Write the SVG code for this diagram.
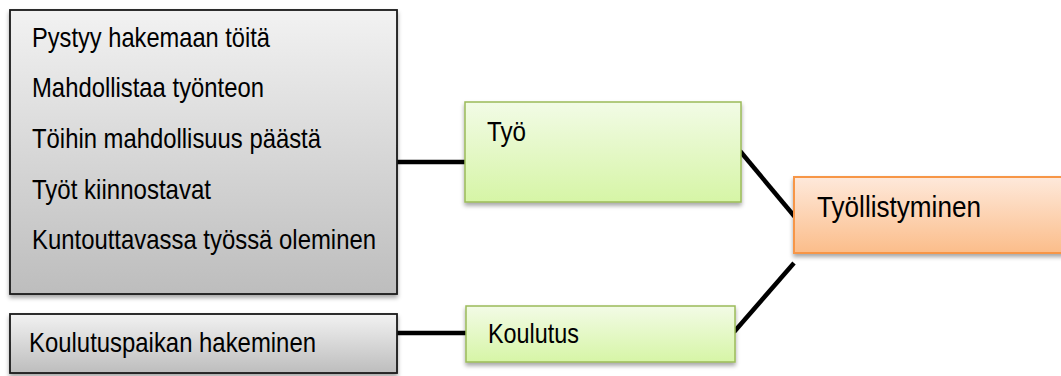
<svg xmlns="http://www.w3.org/2000/svg" width="1061" height="376" viewBox="0 0 1061 376">
  <style>
    .lbl { font-family: "Liberation Sans", Arial, sans-serif; font-size: 28px; fill: #000; }
    .big { font-size: 30px; }
    .gray { fill: url(#gGray); stroke: #1a1a1a; stroke-width: 1.8; }
    .green { fill: url(#gGreen); stroke: #9bbb59; stroke-width: 1.5; }
    .orange { fill: url(#gOrange); stroke: #f79646; stroke-width: 2; }
    .link { stroke: #000; stroke-width: 4.5; fill: none; }
  </style>
  <defs>
    <linearGradient id="gGray" x1="0" y1="0" x2="0" y2="1">
      <stop offset="0" stop-color="#f2f2f2"/>
      <stop offset="1" stop-color="#bdbdbd"/>
    </linearGradient>
    <linearGradient id="gGreen" x1="0" y1="0" x2="0" y2="1">
      <stop offset="0" stop-color="#f2fbe6"/>
      <stop offset="1" stop-color="#d6f5a6"/>
    </linearGradient>
    <linearGradient id="gOrange" x1="0" y1="0" x2="0" y2="1">
      <stop offset="0" stop-color="#fee9db"/>
      <stop offset="1" stop-color="#fbbd8a"/>
    </linearGradient>
    <filter id="shadow" x="-5%" y="-10%" width="110%" height="130%">
      <feDropShadow dx="0" dy="3" stdDeviation="2" flood-color="#000" flood-opacity="0.35"/>
    </filter>
  </defs>

  <rect width="1061" height="376" fill="#fff"/>

  <!-- connectors -->
  <g id="connectors">
    <line class="link" x1="397" y1="162" x2="467" y2="162"/>
    <line class="link" x1="397" y1="333" x2="467" y2="333"/>
    <line class="link" x1="740" y1="151" x2="795" y2="217"/>
    <line class="link" x1="794" y1="263" x2="734" y2="332"/>
  </g>

  <!-- list of work-related factors -->
  <g id="node-tyo-list">
    <rect class="gray" x="10" y="10" width="387" height="284" filter="url(#shadow)"/>
    <text class="lbl" x="32" y="47" textLength="238" lengthAdjust="spacingAndGlyphs">Pystyy hakemaan töitä</text>
    <text class="lbl" x="32" y="97" textLength="232" lengthAdjust="spacingAndGlyphs">Mahdollistaa työnteon</text>
    <text class="lbl" x="32" y="148" textLength="289" lengthAdjust="spacingAndGlyphs">Töihin mahdollisuus päästä</text>
    <text class="lbl" x="32" y="199" textLength="179" lengthAdjust="spacingAndGlyphs">Työt kiinnostavat</text>
    <text class="lbl" x="32" y="249" textLength="344" lengthAdjust="spacingAndGlyphs">Kuntouttavassa työssä oleminen</text>
  </g>

  <!-- education factor -->
  <g id="node-koulutus-list">
    <rect class="gray" x="10" y="314" width="387" height="59" filter="url(#shadow)"/>
    <text class="lbl" x="29" y="352" textLength="287" lengthAdjust="spacingAndGlyphs">Koulutuspaikan hakeminen</text>
  </g>

  <g id="node-tyo">
    <rect class="green" x="465" y="102" width="276" height="100" filter="url(#shadow)"/>
    <text class="lbl" x="487" y="141" textLength="39" lengthAdjust="spacingAndGlyphs">Työ</text>
  </g>

  <g id="node-koulutus">
    <rect class="green" x="466" y="306" width="269" height="56" filter="url(#shadow)"/>
    <text class="lbl" x="488" y="343" textLength="91" lengthAdjust="spacingAndGlyphs">Koulutus</text>
  </g>

  <g id="node-tyollistyminen">
    <rect class="orange" x="794" y="177" width="275" height="76" filter="url(#shadow)"/>
    <text class="lbl big" x="817" y="217" textLength="164" lengthAdjust="spacingAndGlyphs">Työllistyminen</text>
  </g>
</svg>
